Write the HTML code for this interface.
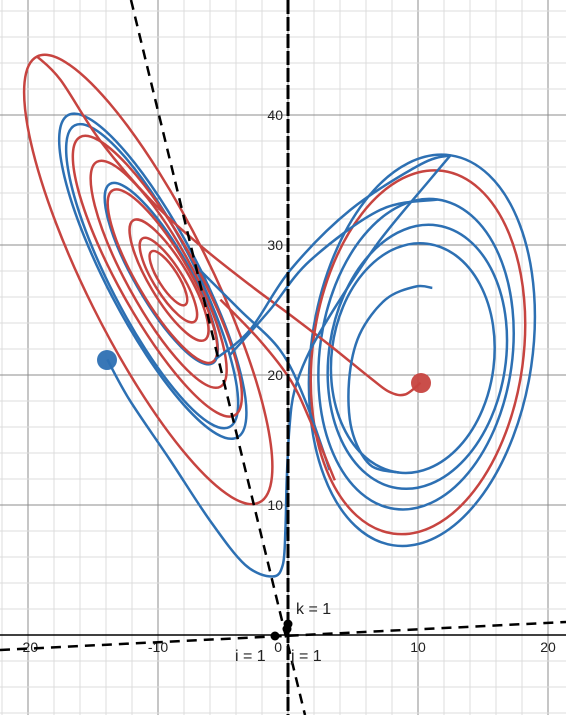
<!DOCTYPE html>
<html><head><meta charset="utf-8"><style>
html,body{margin:0;padding:0;background:#fff}
svg{display:block;font-family:"Liberation Sans",sans-serif}
</style></head><body>
<svg id="chart" width="566" height="715" viewBox="0 0 566 715" xmlns="http://www.w3.org/2000/svg">
<g id="grid"></g>
<g id="axes"></g>
<g id="series"></g>
<g id="marks"></g>
</svg>
<script>
// loops: top point and bottom point (data units) plus full width
const loopColor = ["r","b","b","r","r","b","r","r","r","r","b","r","b","b","b"];
const loopTopX = [-19.3,-16.9,-16.4,-16,-14.7,-13.7,-13.5,-11.9,-11.2,-10.5,12.5,11.9,11.5,11.5,10.7];
const loopTopZ = [44.5,40,39.2,38.3,36.4,34.7,34.2,31.9,30.5,29.5,36.9,35.7,33.5,31.5,30.1];
const loopBotX = [-2.2,-3.9,-4.5,-4.1,-5.2,-5.8,-5.8,-6.4,-7.2,-7.9,8.1,8.1,8.2,8.4,8.5];
const loopBotZ = [10.2,15.2,16,16.9,19.1,20.9,21,22.7,24.1,25.4,6.9,7.8,9.7,11.3,12.5];
const loopWidth = [9.5,7,6.5,6,5,4.2,4,3,2.2,1.5,17,16.2,14.8,13.6,12.5];
// connector paths (data units)
const redPathX = [10.2,9,7.8,6.3,3.2,0.2,-2.9,-6.8,-10.6,-14.5,-17.5,-19.3];
const redPathZ = [19.4,18.5,18.7,19.8,22.3,24.6,26.9,30,33.5,38.1,42.7,44.5];
const bluePathX = [-13.9,-12.2,-9.1,-6,-3.3,-1.2,-0.4,-0.2,-0.1,0.1,0.5,1.7,4,7.1,10.9,12.5];
const bluePathZ = [21.2,18.1,13.5,8.8,5.4,4.5,5.4,8.1,11.9,15.8,18.8,21.9,25.8,30.4,35,36.9];
const c1X = [-5.6,-2.9,0.2,4.8,10.2,12.5], c1Z = [21.2,23.5,28.1,32.7,36.2,36.9];
const c2X = [-4.5,-1.4,1.7,7.1,11.5], c2Z = [21.5,25,28.8,32.7,33.5];
const c3X = [3.2,1.3,-0.6,-3.7,-6.8], c3Z = [12.7,18.1,21.9,25,28.1];
const c4X = [3.6,1.7,0.2,-2.2,-5.2], c4Z = [11.9,16.5,19.6,22.7,25.8];
const innerX = [11.1,9.8,7.5,5.5,4.7,4.9,6.3,8.5], innerZ = [26.7,26.8,25.8,23.1,19.6,15.8,13.1,12.5];
const xTicks = [-20,-10,10,20];
const yTicks = [10,20,30,40];

const NS="http://www.w3.org/2000/svg";
const X0=288,Y0=635,S=13;
const sx=v=>X0+v*S, sy=v=>Y0-v*S;
const RED="#c74440", BLUE="#2d70b3";
function mk(tag,attrs,parent){const e=document.createElementNS(NS,tag);for(const k in attrs)e.setAttribute(k,attrs[k]);parent.appendChild(e);return e;}
const grid=document.getElementById('grid'),axes=document.getElementById('axes'),series=document.getElementById('series'),marks=document.getElementById('marks');

for(let v=-24;v<=24;v+=2){const major=v%10===0;
 const l=mk('line',{x1:sx(v),x2:sx(v),y1:0,y2:715,stroke:major?'#8c8c8c':'#dcdcdc','stroke-width':1},grid);
 
 }
for(let v=-8;v<=56;v+=2){const major=v%10===0;
 const l=mk('line',{x1:0,x2:566,y1:sy(v),y2:sy(v),stroke:major?'#8c8c8c':'#dcdcdc','stroke-width':1},grid);
 
 }
const xa=mk('line',{x1:0,x2:566,y1:Y0,y2:Y0,stroke:'#000','stroke-width':1.5},axes);


xTicks.forEach(t=>{const e=mk('text',{x:sx(t),y:Y0+17,'text-anchor':'middle','font-size':14,fill:'#222'},axes);e.textContent=t;
 
 });
yTicks.forEach(t=>{const e=mk('text',{x:X0-5,y:sy(t)+5,'text-anchor':'end','font-size':14,fill:'#222'},axes);e.textContent=t;
 
 });
const zl=mk('text',{x:X0-6,y:Y0+17,'text-anchor':'end','font-size':14,fill:'#222'},axes);zl.textContent='0';



for(let i=0;i<loopTopX.length;i++){
 const tx=sx(loopTopX[i]),ty=sy(loopTopZ[i]),bx=sx(loopBotX[i]),by=sy(loopBotZ[i]);
 const cx=(tx+bx)/2,cy=(ty+by)/2,a=Math.hypot(bx-tx,by-ty)/2,ang=Math.atan2(by-ty,bx-tx)*180/Math.PI;
 const e=mk('ellipse',{cx:cx,cy:cy,rx:a,ry:loopWidth[i]*S/2,transform:`rotate(${ang} ${cx} ${cy})`,fill:'none',stroke:loopColor[i]==='r'?RED:BLUE,'stroke-width':2.5},series);
 
 
}
function path(xs,zs,col,name){
 let d='M'+sx(xs[0])+' '+sy(zs[0]);
 const p=xs.map((x,i)=>[sx(x),sy(zs[i])]);
 for(let i=0;i<p.length-1;i++){const p0=p[Math.max(0,i-1)],p1=p[i],p2=p[i+1],p3=p[Math.min(p.length-1,i+2)];
  d+=` C${p1[0]+(p2[0]-p0[0])/6} ${p1[1]+(p2[1]-p0[1])/6} ${p2[0]-(p3[0]-p1[0])/6} ${p2[1]-(p3[1]-p1[1])/6} ${p2[0]} ${p2[1]}`;}
 const e=mk('path',{d:d,fill:'none',stroke:col,'stroke-width':2.5},series);
 
 
}
path(redPathX,redPathZ,RED,'red-trajectory-start');
path(bluePathX,bluePathZ,BLUE,'blue-trajectory-start');
path(c1X,c1Z,BLUE,'blue-crossing');
path(c2X,c2Z,BLUE,'blue-crossing');
path(c3X,c3Z,BLUE,'blue-crossing');
path(c4X,c4Z,RED,'red-crossing');
path(innerX,innerZ,BLUE,'blue-inner-spiral');

const d1=mk('line',{x1:131,y1:0,x2:305,y2:715,stroke:'#000','stroke-width':2.5,'stroke-dasharray':'10 7'},marks);


const d2=mk('line',{x1:0,y1:650,x2:566,y2:622,stroke:'#000','stroke-width':2.5,'stroke-dasharray':'10 7'},marks);


const d3=mk('line',{x1:288,y1:0,x2:288,y2:715,stroke:'#000','stroke-width':3,'stroke-dasharray':'14 3'},marks);



const rd=mk('circle',{cx:421,cy:383,r:10,fill:RED,opacity:0.95},marks);


const bd=mk('circle',{cx:107,cy:360,r:10,fill:BLUE,opacity:0.95},marks);


[[275,636,'i-point'],[287,629,'j-point'],[288,624,'k-point']].forEach(p=>{
 const c=mk('circle',{cx:p[0],cy:p[1],r:4.5,fill:'#000'},marks);
 
 });
[[296,614,'k = 1','k-label'],[235,661,'i = 1','i-label'],[291,661,'j = 1','j-label']].forEach(t=>{
 const e=mk('text',{x:t[0],y:t[1],'font-size':16,fill:'#222'},marks);e.textContent=t[2];
 
 });
</script>
</body></html>
